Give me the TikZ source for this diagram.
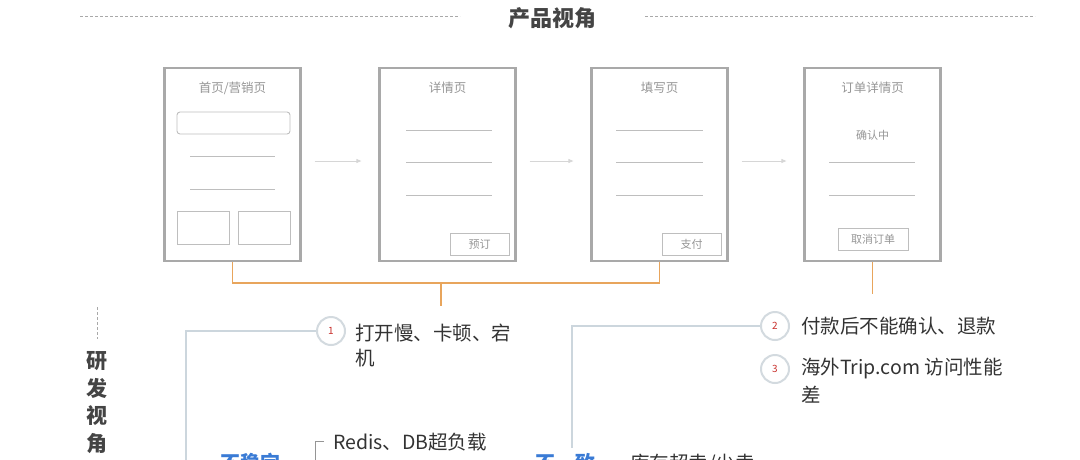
\documentclass[tikz,border=0pt]{standalone}
\usepackage{fontspec}
\setmainfont{Noto Sans CJK SC}
\usetikzlibrary{arrows.meta}
\definecolor{pagegray}{HTML}{A9A9A9}
\definecolor{innergray}{HTML}{BEBEBE}
\definecolor{titlegray}{HTML}{959595}
\definecolor{flowgray}{HTML}{D6D6D6}
\definecolor{orangeline}{HTML}{E8A55C}
\definecolor{connblue}{HTML}{CCD6DD}
\definecolor{circgray}{HTML}{D3DADF}
\definecolor{numred}{HTML}{C9302C}
\definecolor{textdark}{HTML}{333333}
\definecolor{headdark}{HTML}{444444}
\definecolor{blueword}{HTML}{3A7BD5}
\begin{document}
\begin{tikzpicture}[x=1pt,y=-1pt,
  pagebox/.style={draw=pagegray,line width=2.2pt,minimum width=136pt,minimum height=193pt,inner sep=0pt},
  pagetitle/.style={text=titlegray,font=\fontsize{12.5}{14}\selectfont,inner sep=0pt},
  innerline/.style={draw=innergray,line width=0.9pt},
  btn/.style={draw=innergray,line width=0.9pt,minimum width=59pt,minimum height=22pt,inner sep=0pt,text=titlegray,font=\fontsize{11}{13}\selectfont},
  flow/.style={draw=flowgray,line width=0.9pt,-{Triangle[length=5pt,width=4pt]},shorten <=13pt,shorten >=17pt},
  orange/.style={draw=orangeline,line width=1.3pt},
  conn/.style={draw=connblue,line width=2pt},
  numcirc/.style={circle,draw=circgray,line width=2pt,fill=white,minimum size=28pt,inner sep=0pt,text=numred,font=\fontsize{10}{12}\selectfont},
  issue/.style={anchor=base west,inner sep=0pt,text=textdark,font=\fontsize{19.5}{24}\selectfont},
  head/.style={inner sep=0pt,text=headdark,font=\fontsize{22}{24}\selectfont\bfseries},
  vhead/.style={anchor=base,inner sep=0pt,text=headdark,font=\fontsize{21}{24}\selectfont\bfseries},
  dashdiv/.style={draw=pagegray,line width=1pt,dash pattern=on 3pt off 2pt},
  bword/.style={anchor=base west,inner sep=0pt,text=blueword,font=\fontsize{20}{24}\selectfont\bfseries},
  bracket/.style={draw=titlegray,line width=1pt}
]
\useasboundingbox (0,0) rectangle (1080,459);
\clip (0,0) rectangle (1080,459);

% header
\node[head,anchor=base] (title) at (552,26.5) {产品视角};
\draw[dashdiv] (80,16) -- (460,16);
\draw[dashdiv] (645,16) -- (1035,16);

% pages
\node[pagebox] (p1) at (232.5,164.5) {};
\node[pagebox] (p2) at (447.5,164.5) {};
\node[pagebox] (p3) at (659.5,164.5) {};
\node[pagebox] (p4) at (872.5,164.5) {};

\node[pagetitle] (t1) at (232.5,88) {首页/营销页};
\node[pagetitle] (t2) at (447.5,88) {详情页};
\node[pagetitle] (t3) at (659.5,88) {填写页};
\node[pagetitle] (t4) at (872.5,88) {订单详情页};

% page 1 contents
\draw[innerline,rounded corners=3pt] (177,112) rectangle (290,134);
\draw[innerline] (190,156) -- (275,156);
\draw[innerline] (190,189) -- (275,189);
\draw[innerline] (177,211) rectangle (229,244);
\draw[innerline] (238,211) rectangle (290,244);

% page 2 contents
\foreach \yy in {130,162,195} \draw[innerline] (406,\yy) -- (492,\yy);
\node[btn] (b2) at (479.5,244) {预订};

% page 3 contents
\foreach \yy in {130,162,195} \draw[innerline] (616,\yy) -- (703,\yy);
\node[btn] (b3) at (691.5,244) {支付};

% page 4 contents
\node[pagetitle,font=\fontsize{11}{13}\selectfont] (s4) at (872.5,135) {确认中};
\foreach \yy in {162,195} \draw[innerline] (829,\yy) -- (915,\yy);
\node[btn,minimum width=70pt] (b4) at (873,239) {取消订单};

% flow arrows
\draw[flow] (p1.east |- 0,161) -- (p2.west |- 0,161);
\draw[flow] (p2.east |- 0,161) -- (p3.west |- 0,161);
\draw[flow] (p3.east |- 0,161) -- (p4.west |- 0,161);

% orange connectors
\coordinate (oc) at (441,283);
\coordinate (od) at (441,306);
\coordinate (oe) at (872.5,294);
\draw[orange] (p1.south) |- (oc) -| (p3.south);
\draw[orange] (oc) -- (od);
\draw[orange] (p4.south) -- (oe);

% developer view heading
\draw[dashdiv] (97,307) -- (97,339);
\node[vhead] (v1) at (97,368) {研};
\node[vhead] (v2) at (97,396) {发};
\node[vhead] (v3) at (97,423) {视};
\node[vhead] (v4) at (97,451) {角};

% issues
\coordinate (bl) at (186,462);
\coordinate (br) at (572,448);
\draw[conn] (331,331) -| (bl);
\draw[conn] (775,326) -| (br);
\node[numcirc] (n1) at (331,331) {1};
\node[numcirc] (n2) at (775,326) {2};
\node[numcirc] (n3) at (775,369) {3};

\node[issue] (i1a) at (355,340.5) {打开慢、卡顿、宕};
\node[issue] (i1b) at (355,365.5) {机};
\node[issue] (i2) at (801,333.5) {付款后不能确认、退款};
\node[issue] (i3a) at (801,374.5) {海外Trip.com 访问性能};
\node[issue] (i3b) at (801,402) {差};

% bottom part (cut by frame, as in the reference)
\node[issue] (redis) at (333,449.5) {Redis、DB超负载};
\coordinate (bk) at (315,462);
\draw[bracket] (324,441) -| (bk);
\node[bword] (w1) at (220,470) {不稳定};
\node[bword] (w2) at (535,470) {不一致};
\node[issue] (w3) at (630,470) {库存超卖/少卖};
\end{tikzpicture}
\end{document}
